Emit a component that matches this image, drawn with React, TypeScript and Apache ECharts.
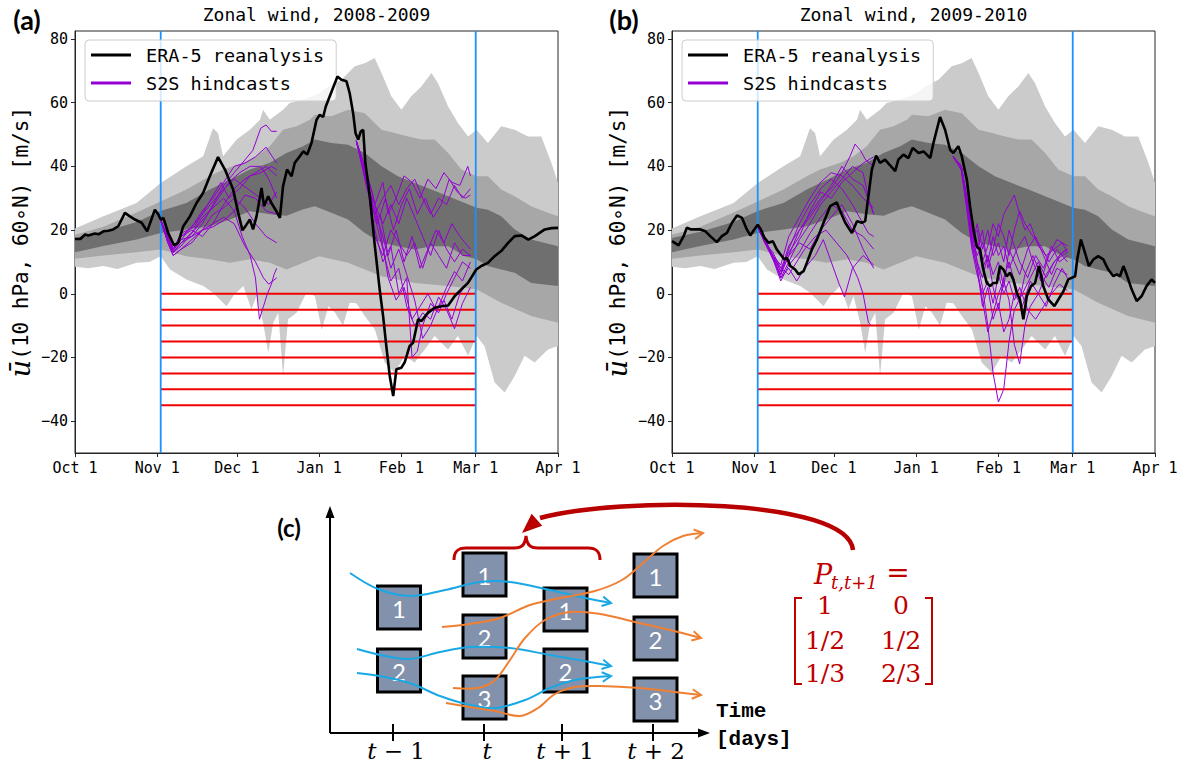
import React, { useEffect, useRef } from "react";
import * as echarts from "echarts";

type Pt = [number, number];

// ---------- axis / label data ----------
const MONTH_TICKS = [0, 31, 61, 92, 123, 151, 182];
const MONTH_LABELS = ["Oct 1", "Nov 1", "Dec 1", "Jan 1", "Feb 1", "Mar 1", "Apr 1"];
const Y_TICKS = [-40, -20, 0, 20, 40, 60, 80];
const THRESHOLDS = [0, -5, -10, -15, -20, -25, -30, -35];
const SEASON_WINDOW = [32.3, 151];
const PANEL_TITLES = ["Zonal wind, 2008-2009", "Zonal wind, 2009-2010"];
const PANEL_TAGS = ["(a)", "(b)"];
const LEGEND_NAMES = ["ERA-5 reanalysis", "S2S hindcasts"];

// ---------- climatology bands (day since Oct 1, m/s) ----------
const LIGHT_UPPER: Pt[] = [[0,20.5],[10.7,24.3],[23.2,28.5],[32.3,34.8],[42,40],[48.3,43.2],[52,52],[53.9,50.5],[55.8,43.2],[60.9,48.4],[65.9,51.5],[69.7,54.6],[70.9,57.8],[73.4,54.6],[78.4,57.8],[80.9,59.9],[86,60.9],[92.2,63],[95.4,65.1],[100.4,67.2],[105.4,71.4],[109.2,72.4],[112.9,74],[115.5,69.3],[119.2,62],[123,57.8],[126.7,62],[130.5,65.1],[134.3,69.3],[136.8,66.1],[140.6,58.8],[144.3,53.6],[148.1,49.4],[151.3,51.5],[155.6,47.3],[160.6,52.6],[165.7,51.5],[170.7,49.4],[175.7,49.4],[179.5,41.1],[182,34.8]];
const LIGHT_LOWER: Pt[] = [[0,8.5],[5,8],[10.7,8.7],[16,7.8],[23.2,9.7],[28,10],[32.3,11.8],[35.8,7.6],[42,4.5],[48.3,2.4],[52,0.3],[57.1,-3.9],[59.6,-0.7],[63.4,2.4],[66.5,-4.9],[68.4,-0.7],[70.9,-9.1],[72.8,-18.5],[74.7,-9.1],[76.6,-6],[78.4,-25.8],[80.3,-8],[83.5,-6],[87.2,0.3],[90.4,-0.7],[93,-11.3],[95.5,-3.9],[98,-6],[101,-10],[103.5,-2.8],[106,-3],[109.2,-7],[113,-11.2],[116.7,-21.6],[120.5,-24.8],[124.2,-19.5],[128,-21.6],[131.8,-17.5],[135.5,-13.3],[140.6,-17.5],[144.3,-13.3],[148.1,-19.5],[151.3,-13.3],[154.3,-16.4],[158.1,-27.9],[161.9,-31],[165.7,-25.8],[169.4,-19.5],[173.2,-21.6],[178.2,-17.5],[182,-16.4]];
const MID_UPPER: Pt[] = [[0,18.5],[10.7,21],[23.2,25.5],[32.3,29],[42,32.7],[50.8,36.9],[55.8,39],[63.4,41.1],[68.4,43.2],[73.4,46.3],[78.4,51.5],[83.5,52.6],[88.5,54.6],[90.4,56.2],[96.6,55.7],[102.9,57.8],[109.2,56.7],[115.5,51.5],[120.5,50.5],[125.5,49.4],[130.5,48.4],[135.5,48.4],[140.6,44.2],[145.6,39],[151.3,36.9],[155.6,36.9],[160.6,32.7],[165.7,30.6],[171.9,27.5],[178.2,25.4],[182,24.3]];
const MID_LOWER: Pt[] = [[0,11],[10.7,12],[23.2,13],[32.3,13.9],[42,11.8],[50.8,10.8],[58.4,9.7],[65.9,10.8],[73.4,9.7],[79.7,7.6],[86,9.7],[92,11.8],[102.9,9.7],[115.5,5.5],[128,3.4],[140.6,2.4],[151.3,1.4],[160.6,-2.8],[171.9,-7],[182,-9.1]];
const DARK_UPPER: Pt[] = [[0,17.5],[10.7,19.5],[23.2,22.5],[32.3,26],[42,28.5],[50.8,32.7],[58.4,35.8],[65.9,39],[73.4,41.1],[79.7,44.2],[86,46.3],[90.4,48.4],[96.6,47.3],[102.9,46.8],[109.2,44.2],[115.5,40],[121.7,36.9],[128,34.8],[134.3,32.7],[140.6,30.6],[146.9,28.5],[151.3,27],[155.6,26.4],[160.6,24.3],[165.7,20.2],[171.9,17],[182,14.9]];
const DARK_LOWER: Pt[] = [[0,13],[10.7,15],[23.2,17],[32.3,19.1],[42,20.2],[50.8,21.2],[58.4,23.3],[65.9,25.9],[73.4,25],[79.7,24.5],[86,26.5],[90.4,27.5],[96.6,25.4],[102.9,23.3],[109.2,19.1],[115.5,16],[121.7,14.9],[128,13.9],[134.3,14.9],[140.6,14.9],[146.9,11.8],[151.3,10.8],[155.6,8.7],[160.6,7.6],[165.7,6.6],[171.9,3.4],[182,2.4]];

// ---------- ERA-5 reanalysis ----------
const ERA_2008: Pt[] = [[0,17.2],[2,17.2],[3.8,18.6],[5,18.3],[7.5,18.9],[9,18.7],[10.7,19.6],[12.5,19.8],[14.4,20.2],[16.3,21.2],[18.8,25.4],[20.7,24.3],[22.6,23.3],[25.1,22.3],[27.2,19.6],[30.1,26.4],[31.4,24.9],[32.3,23.3],[33.3,23.8],[35.1,19.1],[37.3,15.2],[38.9,16],[40.8,21.2],[43.3,24.3],[45.8,28.5],[48.3,31.7],[50.8,36.9],[53.9,42.9],[56.5,39],[59.6,32.7],[61.5,25.4],[63.1,19.9],[64.6,21.7],[65.9,23.3],[67.1,20.2],[68.4,24.3],[70.3,33.2],[71.2,27.5],[72.8,30.6],[74,28.5],[75.9,25.9],[77.2,23.8],[78.4,33.8],[79.9,39],[81.6,36.9],[82.8,41.1],[84.7,43.2],[86,44.7],[87.5,43.7],[89.1,47.3],[91,54.6],[92.2,56.2],[93.5,55.5],[94.5,58.8],[96,62],[98.9,68.2],[100.4,67.2],[102.3,66.7],[103.5,63],[104.8,56.7],[105.7,50.5],[106.7,48.4],[107.7,51],[108.6,51.5],[109.4,41.1],[111.1,30.6],[113,14.9],[114.8,1.4],[116.1,-7],[117.3,-16.4],[118.6,-25.8],[119.9,-32.1],[121.1,-23.7],[123,-23.2],[124.2,-21.6],[126.1,-16.4],[127.4,-15.4],[129.3,-8],[130.5,-8.6],[133,-6],[135.5,-4.4],[138.1,-3.9],[140.6,-3.7],[143.1,-0.7],[145.6,1.4],[148.1,3.4],[151.2,7.6],[153.1,8.7],[155.6,9.7],[158.1,11.8],[160.6,13.4],[163.2,16],[165.7,18.1],[168.2,18.3],[170.8,17],[173.3,18.1],[177,20.2],[179.6,20.6],[182,20.7]];
const ERA_2009: Pt[] = [[0,16.5],[2.5,15.2],[4.4,18.1],[5.6,20.7],[7.2,20.2],[8.8,20.2],[10.7,20.2],[12.6,19.6],[14.4,18.1],[16.9,16.2],[18.8,18.1],[20.7,19.1],[22.6,22.3],[24.5,24.6],[26.4,23.8],[28.2,20.2],[29.5,18.3],[31,20.2],[32.3,21.7],[33.5,20.2],[34.8,17.6],[36.4,16],[38,16.5],[39.5,13.9],[41.4,11.8],[42.3,10.8],[43.3,11.3],[44.6,8.7],[46.4,7.6],[47.7,6.1],[49.6,7.1],[50.8,9.7],[52.7,13.9],[54.6,17],[57.1,22.3],[59.6,27.5],[62.1,28.7],[63.4,25.9],[65.3,22.3],[67.8,19.1],[69.7,22.8],[71.5,22.3],[72.8,22.8],[74,30.6],[75.3,39],[76.9,43.4],[78.4,41.1],[80.3,42.1],[82,40.5],[84.1,38.5],[85.3,42.1],[87.2,43.7],[89.1,42.6],[90.7,45.8],[92.9,44.2],[94.8,44.7],[97.3,42.6],[98.5,47.3],[101,55.5],[102.9,51.5],[104.8,45.2],[106,44.2],[107.9,46.3],[109.2,43.2],[111.1,35.8],[112.3,27.5],[113.6,20.2],[114.8,14.9],[116.1,13.9],[117.3,7.6],[118.6,3.4],[119.9,2.4],[121.1,3.4],[122.4,3.4],[123.6,8.7],[124.9,7.6],[126.1,5.5],[127.4,6.6],[128.6,4.5],[129.9,0.3],[131.1,-1.8],[132.4,-8],[133.7,-0.7],[135.3,2.4],[136.8,3.4],[138.3,8.7],[139.9,2.4],[141.8,-1.8],[144.1,-3.9],[145.6,-1.8],[147.5,0.8],[149.3,4.5],[150.6,5],[151.9,5.5],[152.7,10.8],[154.1,17],[155.6,12.9],[157.1,8.7],[158.8,10.8],[160.6,11.8],[162.5,10.8],[164.4,7.6],[166.3,5.5],[167.6,6.1],[168.8,5.5],[170.1,8.7],[171.3,6.1],[173.2,1.4],[175.1,-2.3],[177,-0.7],[178.8,2.4],[180.7,4.5],[182,3.4]];

// ---------- S2S hindcasts ----------
const HINDCAST_2008_NOV: Pt[][] = [
  [[32.3,23],[35,17],[37,13.5],[40,17],[44,18],[48,22],[52,28],[56,34],[60,38],[64,42],[67,45],[70,52],[72,53],[74,51],[76,51]],
  [[32.3,23],[35,17],[37,13],[40,16],[45,20],[50,25],[54,30],[58,35],[62,38],[66,40],[70,40],[73,36],[76,30]],
  [[32.3,23],[35,18],[37,14],[40,18],[44,20],[48,18],[52,22],[56,28],[60,33],[64,36],[68,38],[72,40],[76,37]],
  [[32.3,23],[35,16],[37,12],[40,14],[44,17],[48,20],[52,25],[56,27],[60,30],[64,27],[68,22],[72,18],[76,16]],
  [[32.3,23],[35,17],[37,13],[40,15],[44,19],[48,24],[52,27],[56,30],[60,26],[63,18],[66,12],[68,5],[69.5,-8],[71,-4],[72.5,0],[74,3],[75,6],[76,8]],
  [[32.3,23],[35,17],[37,14],[40,17],[45,22],[50,27],[55,32],[60,36],[65,33],[70,30],[73,28],[76,32]],
  [[32.3,23],[35,18],[37,14],[40,18],[44,21],[48,26],[52,30],[56,35],[60,40],[64,41],[68,43],[72,46],[76,41]],
  [[32.3,23],[35,16],[37,13],[40,16],[46,19],[52,22],[56,24],[60,22],[64,15],[68,10],[71,5],[73,3],[74.5,4],[76,5]],
  [[32.3,23],[35,17],[37,14],[40,19],[45,21],[50,28],[55,35],[58,30],[62,33],[66,37],[70,38],[74,40],[76,39]],
  [[32.3,23],[35,16],[37,12],[40,14],[44,16],[48,20],[52,21],[56,23],[60,26],[64,31],[68,30],[72,26],[76,25]]
];
const HINDCAST_2008_JAN: Pt[][] = [
  [[106,48],[109,40],[111,32],[113,28],[116,35],[118,25],[121,30],[124,37],[127,35],[130,30],[133,36],[136,33],[139,38],[142,35],[145,34],[148,40],[149,37]],
  [[106,48],[109,40],[111,30],[114,22],[117,30],[120,20],[123,28],[126,33],[129,25],[132,30],[135,24],[138,28],[141,36],[144,32],[147,30],[149,31]],
  [[106,48],[110,36],[112,22],[115,25],[118,12],[121,20],[124,10],[127,18],[130,8],[133,14],[136,20],[139,16],[142,22],[145,18],[149,14]],
  [[106,48],[110,34],[113,20],[116,10],[119,15],[122,0],[125,5],[127,-20],[129,-18],[131,-10],[134,-3],[137,-6],[140,0],[143,5],[146,10],[149,8]],
  [[106,48],[110,35],[113,26],[116,18],[119,8],[122,14],[125,6],[128,-2],[131,-14],[134,-10],[137,-4],[140,2],[143,7],[146,4],[149,10]],
  [[106,48],[110,38],[113,28],[116,22],[119,28],[122,22],[125,30],[128,24],[131,18],[134,12],[137,20],[140,14],[143,10],[146,14],[149,12]],
  [[106,48],[110,37],[112,32],[115,20],[118,5],[121,-2],[124,2],[127,-8],[130,-4],[133,0],[136,-5],[139,-2],[142,-8],[145,0],[149,5]],
  [[106,48],[110,33],[113,25],[116,30],[119,34],[122,28],[125,33],[128,36],[131,30],[134,25],[137,30],[140,28],[143,34],[146,30],[149,33]],
  [[106,48],[110,36],[113,24],[116,14],[119,4],[122,8],[125,-4],[128,-10],[131,-6],[134,-8],[137,-1],[140,-5],[143,-11],[146,-3],[149,2]],
  [[106,48],[110,35],[113,18],[116,12],[119,20],[122,16],[125,12],[128,16],[131,8],[134,16],[137,12],[140,8],[143,16],[146,12],[149,12]]
];
const HINDCAST_2009_NOV: Pt[][] = [
  [[32.3,21],[35,17],[38,12],[41,7],[44,12],[48,20],[52,25],[56,30],[60,33],[64,38],[67,43],[69,47],[71,45],[73,42],[76,40]],
  [[32.3,21],[35,16],[38,12],[41,5],[44,10],[48,17],[52,22],[56,28],[60,32],[64,36],[68,40],[72,38],[74,30],[76,25]],
  [[32.3,21],[35,17],[38,11],[41,6],[44,14],[48,22],[52,28],[56,33],[60,36],[64,33],[68,28],[72,22],[74,19],[76,18]],
  [[32.3,21],[35,16],[38,13],[41,8],[44,6],[47,10],[50,14],[54,18],[58,20],[62,16],[66,12],[70,5],[72,0],[74,-9],[75,-10]],
  [[32.3,21],[35,17],[38,11],[41,5],[44,8],[47,4],[50,8],[54,12],[57,17],[60,10],[63,3],[65,-1],[68,8],[72,12],[76,9]],
  [[32.3,21],[35,16],[38,12],[41,7],[44,15],[48,20],[52,24],[56,29],[60,34],[64,40],[68,36],[72,34],[76,25]],
  [[32.3,21],[35,17],[38,12],[41,9],[44,18],[48,24],[52,30],[56,35],[60,38],[64,37],[68,34],[72,30],[76,27]],
  [[32.3,21],[35,16],[38,11],[41,6],[44,12],[48,16],[52,14],[56,20],[60,24],[64,28],[68,22],[72,14],[76,8]],
  [[32.3,21],[35,17],[38,12],[41,8],[44,13],[48,18],[52,26],[56,32],[60,30],[64,35],[68,38],[72,41],[76,43]],
  [[32.3,21],[35,16],[38,11],[41,4],[44,9],[48,13],[52,19],[56,24],[60,28],[64,26],[68,20],[72,18],[76,14]]
];
const HINDCAST_2009_JAN: Pt[][] = [
  [[106,43],[109,40],[111,30],[113,20],[115,10],[117,2],[119,-10],[121,-25],[123,-34],[125,-30],[127,-15],[129,-5],[132,0],[135,5],[138,10],[141,5],[144,10],[147,12],[149,13]],
  [[106,43],[109,40],[111,30],[113,18],[115,20],[117,10],[119,15],[121,22],[123,18],[125,25],[127,28],[129,31],[131,25],[133,20],[135,22],[138,15],[141,12],[144,14],[147,16],[149,13]],
  [[106,43],[109,39],[111,28],[113,16],[115,8],[117,-2],[119,-12],[121,-6],[123,0],[125,4],[127,-2],[129,-16],[131,-22],[133,-10],[135,-4],[138,0],[141,6],[144,10],[147,13],[149,14]],
  [[106,43],[109,40],[111,30],[113,15],[115,22],[117,14],[119,20],[121,12],[123,16],[125,10],[127,20],[129,15],[131,10],[134,5],[137,12],[140,8],[143,15],[146,10],[149,12]],
  [[106,43],[109,39],[111,27],[113,14],[115,6],[117,0],[119,4],[121,-3],[123,6],[125,0],[127,4],[129,-2],[131,2],[134,-5],[137,-8],[140,-4],[143,0],[146,3],[149,1]],
  [[106,43],[109,40],[111,31],[113,20],[115,14],[117,20],[119,8],[121,14],[123,22],[125,18],[127,12],[129,20],[131,26],[133,22],[136,18],[139,15],[142,10],[145,14],[149,10]],
  [[106,43],[109,39],[111,29],[113,17],[115,10],[117,5],[119,12],[121,2],[123,-5],[125,5],[127,10],[129,4],[131,-2],[133,6],[136,12],[139,6],[142,2],[145,8],[149,6]],
  [[106,43],[109,40],[111,30],[113,18],[115,12],[117,16],[119,10],[121,18],[123,12],[125,15],[127,8],[130,14],[133,18],[136,10],[139,4],[142,12],[145,17],[149,15]],
  [[106,43],[109,39],[111,28],[113,15],[115,8],[117,-4],[119,2],[121,-8],[123,-3],[125,-12],[127,-8],[129,0],[132,-4],[135,4],[138,0],[141,-4],[144,3],[147,8],[149,5]],
  [[106,43],[109,40],[111,30],[113,19],[115,16],[117,8],[119,12],[121,6],[123,10],[125,2],[127,14],[129,10],[131,6],[134,14],[137,18],[140,12],[143,6],[146,12],[149,14]]
];

// ---------- diagram (c) labels ----------
const TIME_LABELS = ["t − 1", "t", "t + 1", "t + 2"];
const STATE_COUNTS = [2, 3, 2, 3];
const MATRIX_ROWS = [["1", "0"], ["1/2", "1/2"], ["1/3", "2/3"]];

const Y_MIN = -50;
const Y_MAX = 82.5;
const MONO = "DejaVu Sans Mono";

function bandSeries(i: number, upper: Pt[], lower: Pt[], color: string) {
  return {
    type: "custom",
    name: "band",
    xAxisIndex: i,
    yAxisIndex: i,
    data: [[0, 0]],
    z: 1,
    silent: true,
    renderItem: (_p: any, api: any) => {
      const pts = upper.map((p) => api.coord(p)).concat(lower.slice().reverse().map((p) => api.coord(p)));
      return { type: "polygon", shape: { points: pts }, style: { fill: color } };
    },
  };
}

function panelSeries(i: number, era: Pt[], hindcasts: Pt[][]) {
  const s: any[] = [];
  s.push(bandSeries(i, LIGHT_UPPER, LIGHT_LOWER, "#cbcbcb"));
  s.push(bandSeries(i, MID_UPPER, MID_LOWER, "#a7a7a7"));
  s.push(bandSeries(i, DARK_UPPER, DARK_LOWER, "#6f6f6f"));
  THRESHOLDS.forEach((v) =>
    s.push({
      type: "line", name: "threshold", xAxisIndex: i, yAxisIndex: i, silent: true, z: 3,
      data: [[SEASON_WINDOW[0], v], [SEASON_WINDOW[1], v]],
      symbol: "none", lineStyle: { color: "#f00000", width: 2 },
    })
  );
  SEASON_WINDOW.forEach((d) =>
    s.push({
      type: "line", name: "window", xAxisIndex: i, yAxisIndex: i, silent: true, z: 3,
      data: [[d, Y_MIN], [d, Y_MAX]],
      symbol: "none", lineStyle: { color: "#1e90ff", width: 1.8 },
    })
  );
  hindcasts.forEach((h) =>
    s.push({
      type: "line", name: LEGEND_NAMES[1], xAxisIndex: i, yAxisIndex: i, z: 4,
      data: h, symbol: "none", color: "#9400d3", lineStyle: { color: "#9400d3", width: 1 },
    })
  );
  s.push({
    type: "line", name: LEGEND_NAMES[0], xAxisIndex: i, yAxisIndex: i, z: 5,
    data: era, symbol: "none", color: "#000000", lineStyle: { color: "#000000", width: 2.6 },
  });
  return s;
}

function openHead(tip: number[], from: number[], len: number, color: string) {
  const dx = tip[0] - from[0], dy = tip[1] - from[1];
  const L = Math.hypot(dx, dy);
  const ux = dx / L, uy = dy / L;
  const a = 0.5;
  const c = Math.cos(a), s = Math.sin(a);
  const p1 = [tip[0] - len * (ux * c - uy * s), tip[1] - len * (uy * c + ux * s)];
  const p2 = [tip[0] - len * (ux * c + uy * s), tip[1] - len * (uy * c - ux * s)];
  return { type: "polyline", shape: { points: [p1, tip, p2] }, style: { stroke: color, lineWidth: 2, fill: "none" }, z: 10 };
}

function filledHead(tip: number[], dir: number[], len: number, half: number, color: string) {
  const L = Math.hypot(dir[0], dir[1]);
  const ux = dir[0] / L, uy = dir[1] / L;
  const bx = tip[0] - ux * len, by = tip[1] - uy * len;
  return {
    type: "polygon",
    shape: { points: [tip, [bx - uy * half, by + ux * half], [bx + uy * half, by - ux * half]] },
    style: { fill: color },
    z: 10,
  };
}

function curve(points: number[][], color: string) {
  const n = points.length;
  return [
    { type: "polyline", shape: { points, smooth: 0.35 }, style: { stroke: color, lineWidth: 2, fill: "none" }, z: 9 },
    openHead(points[n - 1], points[n - 2], 10, color),
  ];
}

let braceRegistered = false;
function registerBrace() {
  if (braceRegistered) return;
  const d = "M454 560 C454 551 458 548 466 548 L514 548 C522 548 525 545 526 536 C527 545 530 548 538 548 L588 548 C596 548 600 551 600 560";
  echarts.graphic.registerShape("brace", (echarts.graphic as any).extendPath(d, {}));
  braceRegistered = true;
}

function diagramGraphics() {
  const g: any[] = [];
  const BOX_FILL = "#8292ad";
  const BLUE = "#19a8e4";
  const ORANGE = "#ef8033";
  const RED = "#c00000";
  // axes
  g.push({ type: "line", shape: { x1: 330, y1: 733, x2: 330, y2: 516 }, style: { stroke: "#000", lineWidth: 2 } });
  g.push(filledHead([330, 506], [0, -1], 12, 4.5, "#000"));
  g.push({ type: "line", shape: { x1: 330, y1: 733, x2: 700, y2: 733 }, style: { stroke: "#000", lineWidth: 2 } });
  g.push(filledHead([710, 733], [1, 0], 12, 4.5, "#000"));
  const colX = [377.5, 463, 544, 634];
  const tickX = [393, 484, 562, 653];
  const colTops = [[586, 649], [553, 615, 676], [588, 649], [554, 617, 678]];
  tickX.forEach((x, k) => {
    g.push({ type: "line", shape: { x1: x, y1: 724, x2: x, y2: 741 }, style: { stroke: "#000", lineWidth: 2 } });
    const parts = TIME_LABELS[k].split(" ");
    const rest = TIME_LABELS[k].slice(1);
    g.push({
      type: "text", x: x + 3, y: 751,
      style: {
        text: "{i|" + parts[0] + "}" + (rest ? "{n|" + rest + "}" : ""),
        align: "center", verticalAlign: "middle",
        rich: {
          i: { fontFamily: "DejaVu Serif", fontStyle: "italic", fontSize: 23, fill: "#000" },
          n: { fontFamily: "DejaVu Serif", fontSize: 23, fill: "#000" },
        },
      },
    });
  });
  colX.forEach((x, c) => {
    for (let r = 0; r < STATE_COUNTS[c]; r++) {
      const y = colTops[c][r];
      g.push({ type: "rect", shape: { x, y, width: 43, height: 43 }, style: { fill: BOX_FILL, stroke: "#000", lineWidth: 3 }, z: 5 });
      g.push({
        type: "text", x: x + 21.5, y: y + 22, z: 6,
        style: { text: String(r + 1), fontFamily: "Lato", fontSize: 24, fill: "#ffffff", align: "center", verticalAlign: "middle" },
      });
    }
  });
  // blue transitions
  g.push(...curve([[350, 573], [378, 589], [410, 596], [445, 590], [480, 582], [510, 582], [550, 590], [585, 598], [611, 603]], BLUE));
  g.push(...curve([[357, 649], [385, 656], [410, 659], [440, 652], [470, 647], [510, 648], [550, 655], [590, 662], [611, 666]], BLUE));
  g.push(...curve([[357, 673], [385, 677], [410, 683], [440, 696], [470, 705], [496, 708], [525, 700], [550, 688], [575, 680], [611, 676]], BLUE));
  // orange transitions
  g.push(...curve([[442, 627], [470, 624], [500, 618], [530, 605], [560, 598], [595, 591], [622, 580], [643, 563], [663, 546], [683, 536], [703, 533]], ORANGE));
  g.push(...curve([[453, 688], [478, 688], [495, 680], [510, 660], [525, 638], [545, 620], [570, 612], [600, 614], [635, 622], [670, 630], [701, 638]], ORANGE));
  g.push(...curve([[446, 703], [470, 707], [495, 711], [520, 716], [538, 708], [555, 694], [575, 687], [600, 686], [640, 688], [675, 692], [701, 695]], ORANGE));
  // brace and arrow
  registerBrace();
  g.push({ type: "brace", x: 0, y: 0, style: { stroke: RED, lineWidth: 3, fill: "none" }, z: 10 });
  g.push({
    type: "bezierCurve",
    shape: { x1: 853, y1: 550, cpx1: 848, cpy1: 498, cpx2: 620, cpy2: 496, x2: 540, y2: 518 },
    style: { stroke: "#b80000", lineWidth: 4.5, fill: "none" },
    z: 10,
  });
  g.push(filledHead([522, 533], [-18, 16], 20, 8, "#b80000"));
  // matrix
  g.push({ type: "text", x: 814, y: 574, style: { text: "P", fontFamily: "DejaVu Serif", fontStyle: "italic", fontSize: 27, fill: RED, align: "left", verticalAlign: "middle" } });
  g.push({ type: "text", x: 831, y: 582, style: { text: "t,t+1", fontFamily: "DejaVu Serif", fontStyle: "italic", fontSize: 18, fill: RED, align: "left", verticalAlign: "middle" } });
  g.push({ type: "text", x: 898, y: 572, style: { text: "=", fontFamily: "DejaVu Serif", fontSize: 28, fill: RED, align: "center", verticalAlign: "middle" } });
  const rowY = [605, 640, 673];
  const colC = [825, 901];
  MATRIX_ROWS.forEach((row, r) =>
    row.forEach((v, c) =>
      g.push({ type: "text", x: colC[c], y: rowY[r], style: { text: v, fontFamily: "DejaVu Serif", fontSize: 25, fill: RED, align: "center", verticalAlign: "middle" } })
    )
  );
  g.push({ type: "polyline", shape: { points: [[802, 598], [795, 598], [795, 684], [802, 684]] }, style: { stroke: RED, lineWidth: 2, fill: "none" } });
  g.push({ type: "polyline", shape: { points: [[925, 598], [932, 598], [932, 684], [925, 684]] }, style: { stroke: RED, lineWidth: 2, fill: "none" } });
  // labels
  g.push({ type: "text", x: 716, y: 711, style: { text: "Time", fontFamily: "Liberation Mono", fontWeight: "bold", fontSize: 21, fill: "#000", align: "left", verticalAlign: "middle" } });
  g.push({ type: "text", x: 716, y: 739, style: { text: "[days]", fontFamily: "Liberation Mono", fontWeight: "bold", fontSize: 21, fill: "#000", align: "left", verticalAlign: "middle" } });
  g.push({ type: "text", x: 289, y: 527, style: { text: "(c)", fontFamily: "Lato", fontWeight: "bold", fontSize: 24, fill: "#000", align: "center", verticalAlign: "middle" } });
  return g;
}

const GRID_LEFT = [75, 672];

export default function App() {
  const ref = useRef<HTMLDivElement>(null);
  useEffect(() => {
    if (!ref.current) return;
    const chart = echarts.init(ref.current, undefined, { renderer: "svg" });
    const grids = GRID_LEFT.map((l) => ({
      left: l, top: 31, width: 483, height: 422, show: true, borderColor: "#262626", borderWidth: 1, backgroundColor: "transparent",
    }));
    const xAxes = GRID_LEFT.map((_, i) => ({
      type: "value", gridIndex: i, min: 0, max: 182,
      axisLine: { show: true, onZero: false, lineStyle: { color: "#262626", width: 1 } },
      axisTick: { show: true, customValues: MONTH_TICKS, length: 4, lineStyle: { color: "#262626" } },
      axisLabel: {
        customValues: MONTH_TICKS, margin: 7, color: "#000", fontFamily: MONO, fontSize: 15,
        formatter: (v: number) => MONTH_LABELS[MONTH_TICKS.indexOf(v)] ?? "",
      },
      splitLine: { show: false },
    }));
    const yAxes = GRID_LEFT.map((_, i) => ({
      type: "value", gridIndex: i, min: Y_MIN, max: Y_MAX,
      name: "{u|ū}(10 hPa, 60∘N) [m/s]",
      nameLocation: "middle", nameRotate: 90, nameGap: 41,
      nameTextStyle: {
        fontFamily: MONO, fontSize: 21, color: "#000",
        rich: { u: { fontFamily: "DejaVu Serif", fontStyle: "italic", fontSize: 27, color: "#000" } },
      },
      axisLine: { show: true, lineStyle: { color: "#262626", width: 1 } },
      axisTick: { show: true, customValues: Y_TICKS, length: 4, lineStyle: { color: "#262626" } },
      axisLabel: {
        customValues: Y_TICKS, margin: 7, color: "#000", fontFamily: MONO, fontSize: 15,
        formatter: (v: number) => (v < 0 ? "−" + Math.abs(v) : String(v)),
      },
      splitLine: { show: false },
    }));
    const legends = GRID_LEFT.map((l) => ({
      data: LEGEND_NAMES.map((n) => ({ name: n, icon: "rect" })),
      orient: "vertical", left: l + 10, top: 40,
      itemWidth: 40, itemHeight: 3, itemGap: 6,
      padding: [4, 12, 7, 6],
      backgroundColor: "rgba(255,255,255,0.8)", borderColor: "#cccccc", borderWidth: 1, borderRadius: 4,
      selectedMode: false,
      textStyle: { fontFamily: MONO, fontSize: 18.5, color: "#000", lineHeight: 22, padding: [0, 0, 0, 10] },
    }));
    const graphic: any[] = [];
    GRID_LEFT.forEach((l, i) => {
      graphic.push({ type: "text", x: l + 241.5, y: 14, style: { text: PANEL_TITLES[i], fontFamily: MONO, fontSize: 18, fill: "#000", align: "center", verticalAlign: "middle" } });
      graphic.push({ type: "text", x: l - 48, y: 19, style: { text: PANEL_TAGS[i], fontFamily: "Lato", fontWeight: "bold", fontSize: 27, fill: "#000", align: "center", verticalAlign: "middle" } });
    });
    graphic.push(...diagramGraphics());
    chart.setOption({
      animation: false,
      backgroundColor: "#ffffff",
      grid: grids,
      xAxis: xAxes,
      yAxis: yAxes,
      legend: legends,
      graphic,
      series: [...panelSeries(0, ERA_2008, [...HINDCAST_2008_NOV, ...HINDCAST_2008_JAN]), ...panelSeries(1, ERA_2009, [...HINDCAST_2009_NOV, ...HINDCAST_2009_JAN])],
    });
    return () => chart.dispose();
  }, []);
  return <div ref={ref} style={{ position: "absolute", left: 0, top: 0, width: 1185, height: 766, background: "#fff" }} />;
}
